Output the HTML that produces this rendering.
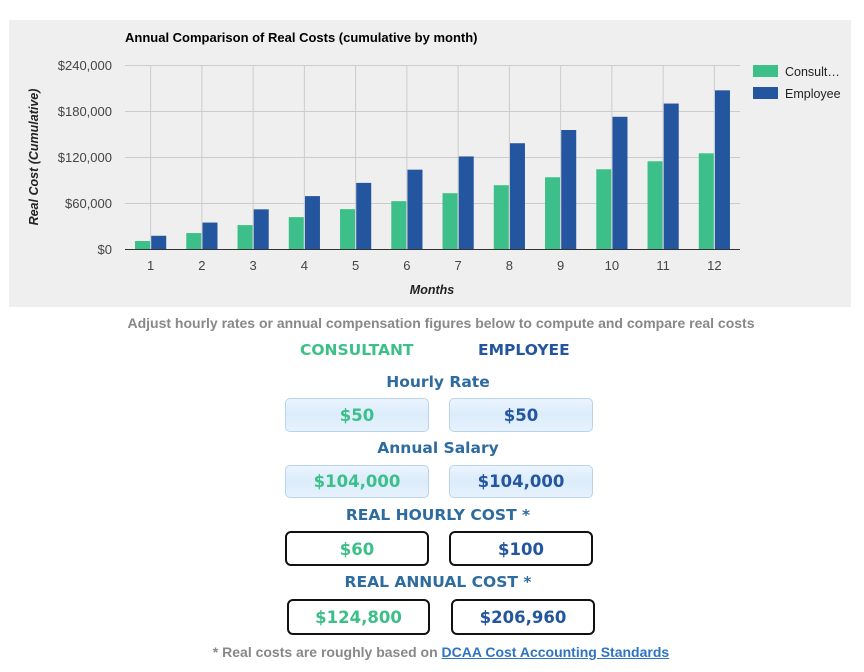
<!DOCTYPE html>
<html><head><meta charset="utf-8"><style>
body{margin:0;width:864px;height:672px;background:#fff;font-family:"Liberation Sans",Arial,sans-serif;position:relative;overflow:hidden}
.a{position:absolute;white-space:nowrap;font-weight:bold}
.c{text-align:center}
.box{position:absolute;box-sizing:border-box;text-align:center;font-weight:bold;font-size:16.5px;font-family:"DejaVu Sans","Liberation Sans",sans-serif}
.in{border:1px solid #b9d3ea;border-radius:5px;background:linear-gradient(#eaf4fe,#dcecfb 50%,#e6f2fd);}
.out{border:2px solid #111;border-radius:6px;background:#fff}
.g{color:#3dbf8a}.b{color:#2456a0}
.h{font-family:"DejaVu Sans","Liberation Sans",sans-serif;color:#2e6b9e;font-size:15.5px}
</style></head><body>
<svg width="864" height="310" style="position:absolute;left:0;top:0" font-family="Liberation Sans, Arial, sans-serif">
<rect x="9" y="20" width="842" height="287" fill="#efefef"/>
<text x="125" y="42" font-size="13" font-weight="bold" fill="#000">Annual Comparison of Real Costs (cumulative by month)</text>
<g stroke="#ccc" stroke-width="1">
<line x1="125" y1="65.5" x2="740" y2="65.5"/><line x1="125" y1="111.5" x2="740" y2="111.5"/><line x1="125" y1="157.5" x2="740" y2="157.5"/><line x1="125" y1="203.5" x2="740" y2="203.5"/>
</g>
<g id="v" stroke="#ccc"></g>
<g font-size="13" fill="#444" text-anchor="end">
<text x="112" y="70">$240,000</text><text x="112" y="116">$180,000</text><text x="112" y="162">$120,000</text><text x="112" y="208">$60,000</text><text x="112" y="254">$0</text>
</g>
<text transform="translate(38,157) rotate(-90)" text-anchor="middle" font-size="12.5" font-weight="bold" font-style="italic" fill="#222">Real Cost (Cumulative)</text>
<text x="432" y="294" text-anchor="middle" font-size="12.5" font-weight="bold" font-style="italic" fill="#222">Months</text>
<g id="bars"></g>
<line x1="125" y1="249.5" x2="740" y2="249.5" stroke="#333"/>
<rect x="753" y="65" width="25" height="12" fill="#3dbf8a"/><text x="785" y="76" font-size="12.5" fill="#222">Consult…</text>
<rect x="753" y="87" width="25" height="12" fill="#2456a0"/><text x="785" y="98" font-size="12.5" fill="#222">Employee</text>
</svg>
<script>
var ns="http://www.w3.org/2000/svg",s=document.querySelector('svg'),bars=document.getElementById('bars'),v=document.getElementById('v');
for(var m=1;m<=12;m++){var c=125+51.25*(m-0.5);
var l=document.createElementNS(ns,'line');l.setAttribute('x1',c);l.setAttribute('x2',c);l.setAttribute('y1',65);l.setAttribute('y2',249);v.appendChild(l);
var hg=10400*m*184/240000,hb=17246.67*m*184/240000;
var r=document.createElementNS(ns,'rect');r.setAttribute('x',c-15.6);r.setAttribute('width',15);r.setAttribute('y',249-hg);r.setAttribute('height',hg);r.setAttribute('fill','#3dbf8a');bars.appendChild(r);
r=document.createElementNS(ns,'rect');r.setAttribute('x',c+0.6);r.setAttribute('width',15);r.setAttribute('y',249-hb);r.setAttribute('height',hb);r.setAttribute('fill','#2456a0');bars.appendChild(r);
var t=document.createElementNS(ns,'text');t.setAttribute('x',c);t.setAttribute('y',270);t.setAttribute('text-anchor','middle');t.setAttribute('font-size','13');t.setAttribute('fill','#444');t.textContent=m;s.appendChild(t);}
</script>
<div class="a c" style="left:0;width:882px;top:315px;font-size:14px;color:#888">Adjust hourly rates or annual compensation figures below to compute and compare real costs</div>
<div class="a h g" style="left:300px;top:341px;color:#3dbf8a">CONSULTANT</div>
<div class="a h b" style="left:478px;top:341px;color:#2456a0">EMPLOYEE</div>
<div class="a c h" style="left:0;width:876px;top:373px">Hourly Rate</div>
<div class="box in g" style="left:285px;top:398px;width:144px;height:34px;line-height:33px">$50</div>
<div class="box in b" style="left:449px;top:398px;width:144px;height:34px;line-height:33px">$50</div>
<div class="a c h" style="left:0;width:876px;top:439px">Annual Salary</div>
<div class="box in g" style="left:285px;top:465px;width:144px;height:33px;line-height:32px">$104,000</div>
<div class="box in b" style="left:449px;top:465px;width:144px;height:33px;line-height:32px">$104,000</div>
<div class="a c h" style="left:0;width:876px;top:506px">REAL HOURLY COST *</div>
<div class="box out g" style="left:285px;top:531px;width:144px;height:35px;line-height:33px">$60</div>
<div class="box out b" style="left:449px;top:531px;width:144px;height:35px;line-height:33px">$100</div>
<div class="a c h" style="left:0;width:876px;top:573px">REAL ANNUAL COST *</div>
<div class="box out g" style="left:287px;top:599px;width:143px;height:36px;line-height:34px">$124,800</div>
<div class="box out b" style="left:451px;top:599px;width:144px;height:36px;line-height:34px">$206,960</div>
<div class="a c" style="left:0;width:882px;top:644px;font-size:14px;color:#888">* Real costs are roughly based on <span style="color:#2f74c0;text-decoration:underline">DCAA Cost Accounting Standards</span></div>
</body></html>
